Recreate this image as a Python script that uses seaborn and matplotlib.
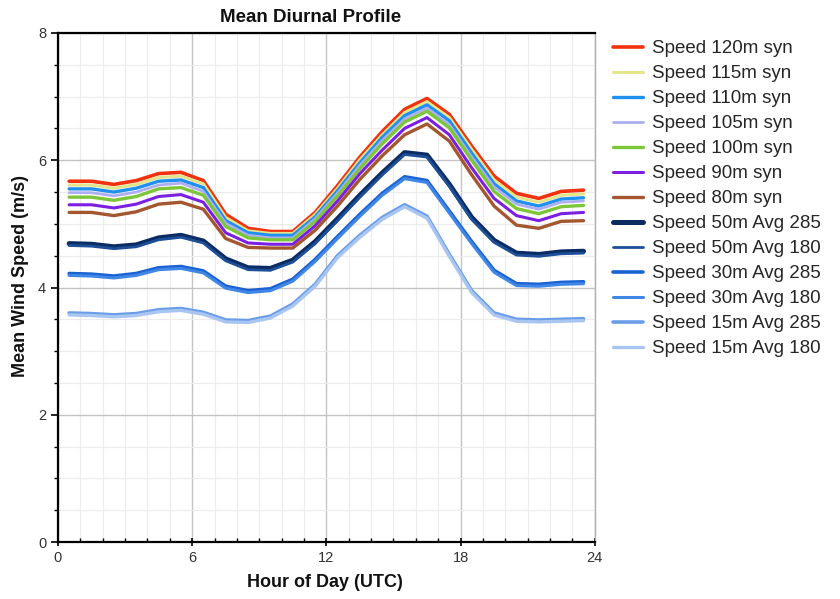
import numpy as np
import pandas as pd
import matplotlib
matplotlib.use("Agg")
import matplotlib.pyplot as plt
from matplotlib.ticker import MultipleLocator
import seaborn as sns

# hour of day (bin centres)
hours = [0.5, 1.5, 2.5, 3.5, 4.5, 5.5, 6.5, 7.5, 8.5, 9.5, 10.5, 11.5,
         12.5, 13.5, 14.5, 15.5, 16.5, 17.5, 18.5, 19.5, 20.5, 21.5, 22.5, 23.5]

speed_120m_syn = [5.67, 5.67, 5.62, 5.68, 5.79, 5.81, 5.68, 5.15, 4.93, 4.88, 4.88, 5.18,
                  5.60, 6.05, 6.45, 6.80, 6.97, 6.72, 6.22, 5.75, 5.48, 5.40, 5.51, 5.53]
speed_115m_syn = [5.61, 5.61, 5.56, 5.62, 5.73, 5.75, 5.63, 5.10, 4.89, 4.85, 4.85, 5.15,
                  5.56, 6.01, 6.40, 6.75, 6.92, 6.67, 6.17, 5.69, 5.42, 5.34, 5.45, 5.47]
speed_110m_syn = [5.55, 5.55, 5.50, 5.56, 5.67, 5.69, 5.57, 5.05, 4.86, 4.82, 4.82, 5.11,
                  5.52, 5.96, 6.36, 6.70, 6.87, 6.62, 6.11, 5.63, 5.36, 5.28, 5.39, 5.41]
speed_105m_syn = [5.49, 5.49, 5.44, 5.50, 5.61, 5.64, 5.51, 5.01, 4.82, 4.78, 4.78, 5.08,
                  5.48, 5.92, 6.31, 6.65, 6.82, 6.56, 6.05, 5.58, 5.31, 5.23, 5.34, 5.36]
speed_100m_syn = [5.42, 5.42, 5.37, 5.43, 5.55, 5.57, 5.45, 4.96, 4.78, 4.75, 4.75, 5.04,
                  5.44, 5.87, 6.26, 6.60, 6.77, 6.51, 6.00, 5.51, 5.24, 5.16, 5.27, 5.29]
speed_90m_syn = [5.30, 5.30, 5.25, 5.31, 5.43, 5.46, 5.34, 4.86, 4.70, 4.68, 4.68, 4.97,
                 5.36, 5.79, 6.16, 6.50, 6.67, 6.40, 5.88, 5.40, 5.13, 5.05, 5.16, 5.18]
speed_80m_syn = [5.18, 5.18, 5.13, 5.19, 5.31, 5.34, 5.23, 4.77, 4.63, 4.62, 4.62, 4.90,
                 5.28, 5.70, 6.07, 6.40, 6.57, 6.30, 5.77, 5.28, 4.98, 4.93, 5.04, 5.05]
speed_50m_285 = [4.69, 4.68, 4.64, 4.67, 4.78, 4.82, 4.73, 4.45, 4.31, 4.30, 4.43, 4.72,
                 5.08, 5.45, 5.80, 6.12, 6.08, 5.62, 5.10, 4.74, 4.54, 4.52, 4.56, 4.57]
speed_50m_180 = [4.66, 4.65, 4.61, 4.64, 4.75, 4.79, 4.70, 4.42, 4.28, 4.27, 4.40, 4.69,
                 5.05, 5.42, 5.77, 6.09, 6.05, 5.59, 5.07, 4.71, 4.51, 4.49, 4.53, 4.54]
speed_30m_285 = [4.22, 4.21, 4.18, 4.22, 4.31, 4.33, 4.26, 4.02, 3.95, 3.98, 4.13, 4.44,
                 4.80, 5.15, 5.48, 5.74, 5.68, 5.20, 4.72, 4.27, 4.06, 4.05, 4.08, 4.09]
speed_30m_180 = [4.19, 4.18, 4.15, 4.19, 4.28, 4.30, 4.23, 3.99, 3.92, 3.95, 4.10, 4.41,
                 4.77, 5.12, 5.45, 5.71, 5.65, 5.17, 4.69, 4.24, 4.03, 4.02, 4.05, 4.06]
speed_15m_285 = [3.60, 3.59, 3.57, 3.59, 3.65, 3.67, 3.61, 3.49, 3.48, 3.55, 3.74, 4.05,
                 4.50, 4.82, 5.10, 5.30, 5.12, 4.52, 3.95, 3.60, 3.50, 3.49, 3.50, 3.51]
speed_15m_180 = [3.57, 3.56, 3.54, 3.56, 3.62, 3.64, 3.58, 3.46, 3.45, 3.52, 3.71, 4.02,
                 4.47, 4.79, 5.07, 5.27, 5.09, 4.49, 3.92, 3.57, 3.47, 3.46, 3.47, 3.48]

series_names = ["Speed 120m syn", "Speed 115m syn", "Speed 110m syn", "Speed 105m syn",
                "Speed 100m syn", "Speed 90m syn", "Speed 80m syn",
                "Speed 50m Avg 285", "Speed 50m Avg 180", "Speed 30m Avg 285",
                "Speed 30m Avg 180", "Speed 15m Avg 285", "Speed 15m Avg 180"]
series_values = [speed_120m_syn, speed_115m_syn, speed_110m_syn, speed_105m_syn,
                 speed_100m_syn, speed_90m_syn, speed_80m_syn,
                 speed_50m_285, speed_50m_180, speed_30m_285,
                 speed_30m_180, speed_15m_285, speed_15m_180]

colors = ["#f2310f", "#e4e48a", "#1f8ff0", "#aeaef2", "#7cc63a", "#7b1fe2", "#a4562f",
          "#0b2c62", "#1d4f98", "#1a62d2", "#3f86e6", "#6a9de8", "#a9c5f1"]
widths = [2.6, 2.2, 2.4, 2.0, 2.4, 2.2, 2.4, 3.6, 2.0, 2.6, 2.2, 2.6, 2.4]

df = pd.DataFrame({
    "hour": np.tile(hours, len(series_names)),
    "speed": np.concatenate(series_values),
    "series": np.repeat(series_names, len(hours)),
})

sns.set_style("white")
plt.rcParams["font.family"] = ["Liberation Sans", "DejaVu Sans"]

fig = plt.figure(figsize=(8.4, 5.99), dpi=100)
ax = fig.add_axes([0.069, 0.095, 0.639, 0.850])

for name, col, lw in zip(series_names, colors, widths):
    sns.lineplot(data=df[df["series"] == name], x="hour", y="speed", ax=ax,
                 color=col, linewidth=lw, label=name)

ax.set_xlim(0, 24)
ax.set_ylim(0, 8)
ax.xaxis.set_major_locator(MultipleLocator(6))
ax.xaxis.set_minor_locator(MultipleLocator(1))
ax.yaxis.set_major_locator(MultipleLocator(2))
ax.yaxis.set_minor_locator(MultipleLocator(0.5))
ax.grid(which="major", color="#c4c4c4", linewidth=1.0)
ax.grid(which="minor", color="#ececec", linewidth=0.8)
ax.set_axisbelow(True)

for side in ["left", "bottom", "top"]:
    ax.spines[side].set_color("black")
    ax.spines[side].set_linewidth(1.6)
ax.spines["right"].set_color("#b0b0b0")
ax.spines["right"].set_linewidth(1.0)

ax.tick_params(axis="both", which="major", labelsize=10.5, labelcolor="#333333",
               length=5, width=1.2, color="black")
ax.tick_params(axis="y", which="both", direction="out", left=True)
ax.tick_params(axis="y", which="minor", length=3, width=1.0, color="black")
ax.tick_params(axis="x", which="major", direction="inout", bottom=True, length=6)
ax.tick_params(axis="x", which="minor", direction="in", bottom=True, length=3,
               width=1.0, color="black")

ax.set_xlabel("")
ax.set_ylabel("")
fig.text(0.387, 0.027, "Hour of Day (UTC)", ha="center", va="center",
         fontsize=13, fontweight="bold", color="#111111")
fig.text(0.024, 0.54, "Mean Wind Speed (m/s)", ha="center", va="center",
         rotation=90, fontsize=13, fontweight="bold", color="#111111")
fig.text(0.370, 0.970, "Mean Diurnal Profile", ha="center", va="center",
         fontsize=13.5, fontweight="bold", color="#111111")

ax.legend_.remove()
handles, labels = ax.get_legend_handles_labels()
fig.legend(handles, labels, loc="upper left", bbox_to_anchor=(0.730, 0.933),
           frameon=False, fontsize=13.5, handlelength=1.6, handletextpad=0.45,
           labelspacing=0.42, borderpad=0, borderaxespad=0)

fig.savefig("out.png", dpi=100)
